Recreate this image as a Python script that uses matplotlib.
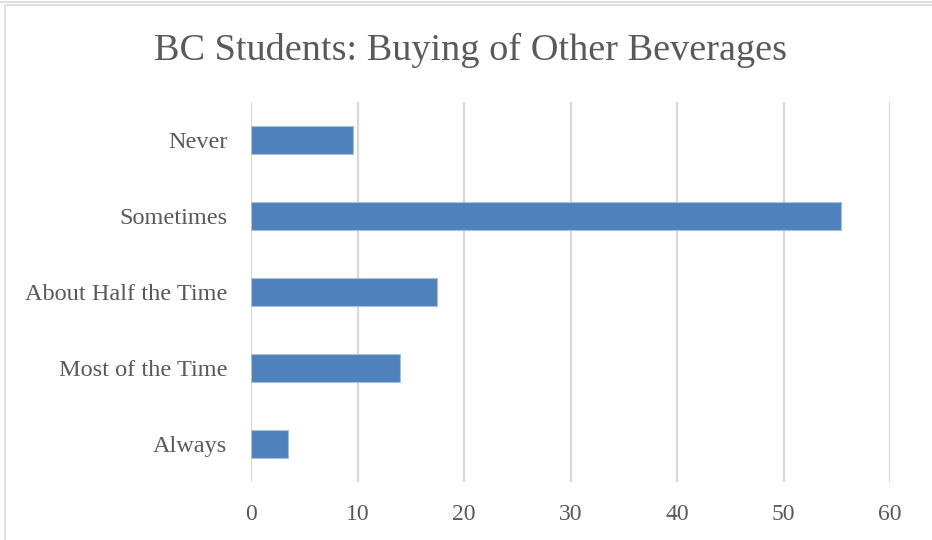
import matplotlib
matplotlib.use("Agg")
import matplotlib.pyplot as plt
from matplotlib.patches import Rectangle
from matplotlib.lines import Line2D

categories = ["Never", "Sometimes", "About Half the Time", "Most of the Time", "Always"]
values = [9.6, 55.4, 17.5, 14.0, 3.5]
x_ticks = [0, 10, 20, 30, 40, 50, 60]

TEXT = "#595959"
GRID = "#D9D9D9"
BAR = "#4F81BD"
FONT = "Liberation Serif"

fig = plt.figure(figsize=(9.32, 5.40), dpi=100)
fig.patch.set_facecolor("white")

# chart frame
fig.add_artist(Line2D([0, 1], [1 - 1.5 / 540, 1 - 1.5 / 540], color=GRID, lw=1.2,
                      transform=fig.transFigure))
fig.add_artist(Rectangle((5 / 932, -0.05), 1.2, 1 - 5 / 540 + 0.05, fill=False,
                         edgecolor=GRID, lw=1.2, transform=fig.transFigure))

ax = fig.add_axes([251 / 932, 1 - 482 / 540, (890 - 251) / 932, (482 - 102) / 540])

pos = list(range(len(categories)))
ax.barh(pos, values, height=0.36, color=BAR, edgecolor="#A7BFDE", linewidth=0.8, zorder=3)
ax.set_ylim(len(categories) - 0.5, -0.5)
ax.set_xlim(0, 60)
ax.set_xticks(x_ticks)
ax.set_xticklabels([str(t) for t in x_ticks], fontfamily=FONT, fontsize=17, color=TEXT)
ax.set_yticks(pos)
ax.set_yticklabels(categories, fontfamily=FONT, fontsize=17.5, color=TEXT)
ax.tick_params(axis="both", length=0)
ax.tick_params(axis="y", pad=17)
ax.tick_params(axis="x", pad=16)
ax.grid(axis="x", color=GRID, lw=1.6, zorder=0)
for s in ax.spines.values():
    s.set_visible(False)

fig.text(470 / 932, 1 - 50 / 540, "BC Students: Buying of Other Beverages",
         ha="center", va="center", fontfamily=FONT, fontsize=27.5, color=TEXT)

fig.savefig("out.png", dpi=100)
